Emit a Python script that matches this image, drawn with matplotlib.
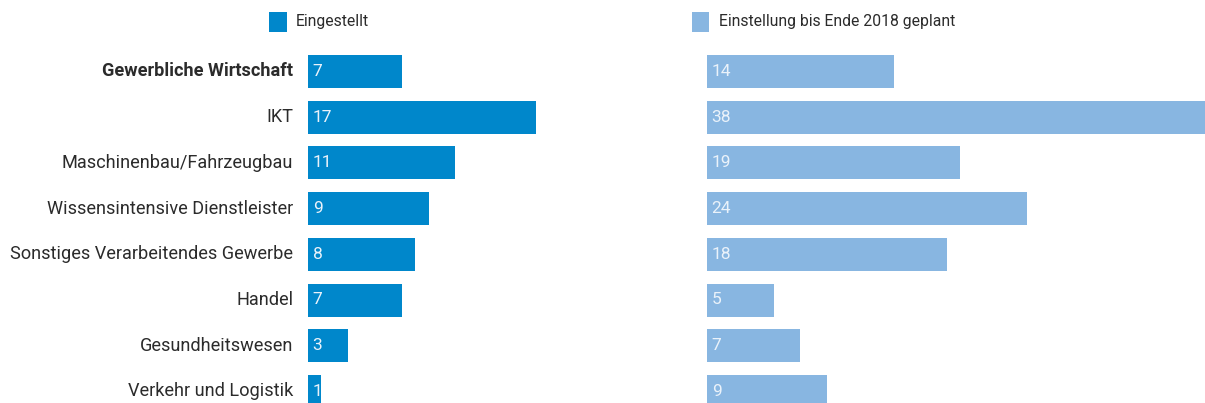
import matplotlib
matplotlib.use("Agg")
import matplotlib.pyplot as plt
from matplotlib.patches import Rectangle
from matplotlib import font_manager

categories = [
    "Gewerbliche Wirtschaft",
    "IKT",
    "Maschinenbau/Fahrzeugbau",
    "Wissensintensive Dienstleister",
    "Sonstiges Verarbeitendes Gewerbe",
    "Handel",
    "Gesundheitswesen",
    "Verkehr und Logistik",
]
eingestellt = [7, 17, 11, 9, 8, 7, 3, 1]
geplant = [14, 38, 19, 24, 18, 5, 7, 9]
series_names = ["Eingestellt", "Einstellung bis Ende 2018 geplant"]

DARK = "#0087CB"
LIGHT = "#88B6E1"
TEXT = "#2b2b2b"
VALUE = "#EAF2FA"

names = {f.name for f in font_manager.fontManager.ttflist}
FONT = "Liberation Sans Narrow" if "Liberation Sans Narrow" in names else "Roboto"
plt.rcParams["font.family"] = [FONT, "DejaVu Sans"]

W, H = 1205, 403
fig = plt.figure(figsize=(W / 100, H / 100), dpi=100)


def box(x0, y0, x1, y1):
    return [x0 / W, 1 - y1 / H, (x1 - x0) / W, (y1 - y0) / H]


row0, step = 71.5, 45.7
top_px, bot_px = 48, 403
ylim = ((bot_px - row0) / step, (top_px - row0) / step)
bar_h = 33 / step

panels = [
    (308, 600, 13.4, eingestellt, DARK),
    (707, 1205, 13.33, geplant, LIGHT),
]
positions = list(range(len(categories)))
for x0, x1, scale, vals, color in panels:
    ax = fig.add_axes(box(x0, top_px, x1, bot_px))
    ax.barh(positions, vals, height=bar_h, color=color, linewidth=0)
    ax.set_xlim(0, (x1 - x0) / scale)
    ax.set_ylim(*ylim)
    ax.axis("off")
    for p, v in zip(positions, vals):
        ax.text(0.35, p, str(v), color=VALUE, fontsize=12.5,
                va="center", ha="left")

for i, cat in enumerate(categories):
    fig.text(293 / W, 1 - (row0 + step * i) / H, cat, ha="right", va="center",
             fontsize=13.1, color=TEXT, fontweight="bold" if i == 0 else "normal")

legend_items = [(269, 296, DARK, series_names[0]), (692, 719, LIGHT, series_names[1])]
for sx, tx, color, label in legend_items:
    fig.patches.append(Rectangle((sx / W, 1 - 32 / H), 17.5 / W, 20 / H,
                                 transform=fig.transFigure, color=color,
                                 linewidth=0))
    fig.text(tx / W, 1 - 21.5 / H, label, ha="left", va="center",
             fontsize=11.3, color=TEXT)

fig.savefig("out.png", dpi=100)
